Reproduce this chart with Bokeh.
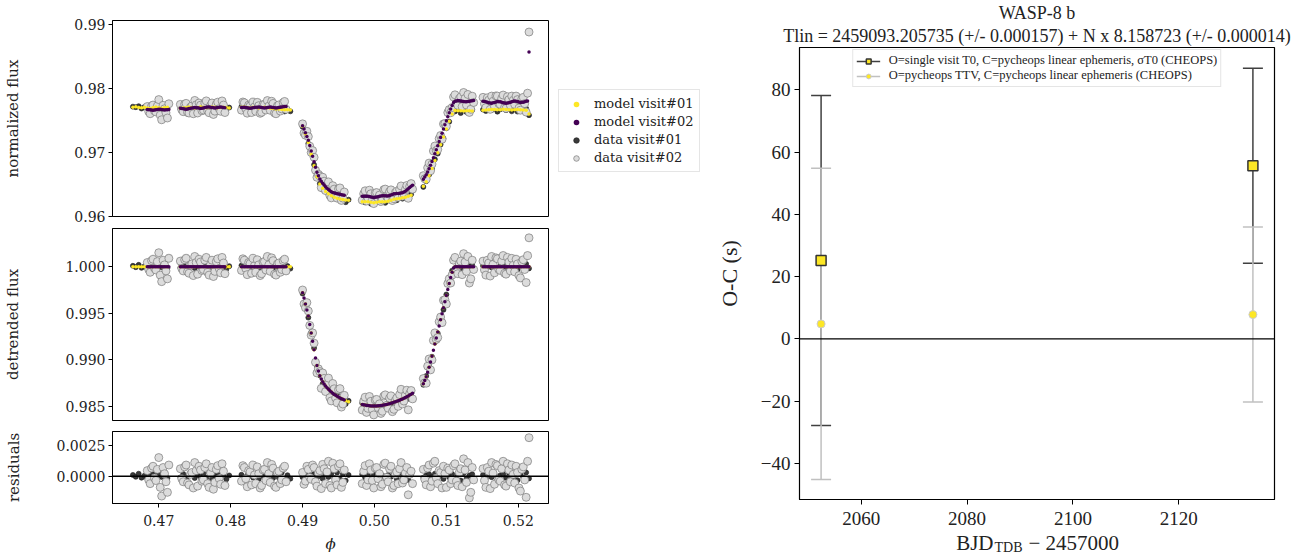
import numpy as np
from bokeh.plotting import figure
from bokeh.layouts import row, column
from bokeh.models import (ColumnDataSource, Range1d, FixedTicker, PrintfTickFormatter,
                          Legend, LegendItem, Span, Title, Label)
from bokeh.embed import file_html
from bokeh.resources import INLINE

# ---------------- light-curve data ----------------
# visit 1 and the first set of visit 2 points share this phase grid
phase = [
    0.4664, 0.4668, 0.4672, 0.4676, 0.4680, 0.4684, 0.4688, 0.4692, 0.4696, 0.4700, 0.4704, 0.4708, 0.4712,
    0.4730, 0.4734, 0.4738, 0.4742, 0.4746, 0.4750, 0.4754, 0.4758, 0.4762, 0.4766, 0.4770, 0.4774, 0.4778, 0.4782, 0.4786, 0.4790, 0.4794, 0.4798,
    0.4815, 0.4819, 0.4823, 0.4827, 0.4831, 0.4835, 0.4839, 0.4843, 0.4847, 0.4851, 0.4855, 0.4859, 0.4863, 0.4867, 0.4871, 0.4875, 0.4879, 0.4883,
    0.4900, 0.4904, 0.4908, 0.4912, 0.4916, 0.4920, 0.4924, 0.4928, 0.4932, 0.4936, 0.4940, 0.4944, 0.4948, 0.4952, 0.4956, 0.4960, 0.4964,
    0.4983, 0.4987, 0.4991, 0.4995, 0.4999, 0.5003, 0.5007, 0.5011, 0.5015, 0.5019, 0.5023, 0.5027, 0.5031, 0.5035, 0.5039, 0.5043, 0.5047, 0.5051,
    0.5068, 0.5072, 0.5076, 0.5080, 0.5084, 0.5088, 0.5092, 0.5096, 0.5100, 0.5104, 0.5108, 0.5112, 0.5116, 0.5120, 0.5124, 0.5128, 0.5132, 0.5136,
    0.5151, 0.5155, 0.5159, 0.5163, 0.5167, 0.5171, 0.5175, 0.5179, 0.5183, 0.5187, 0.5191, 0.5195, 0.5199, 0.5203, 0.5207, 0.5211, 0.5215,
]

# detrended transit model on that grid
det_model = [
    1.0, 1.0, 1.0, 1.0, 1.0, 1.0, 1.0, 1.0, 1.0, 1.0, 1.0, 1.0, 1.0,
    1.0, 1.0, 1.0, 1.0, 1.0, 1.0, 1.0, 1.0, 1.0, 1.0, 1.0, 1.0, 1.0, 1.0, 1.0, 1.0, 1.0, 1.0,
    1.0, 1.0, 1.0, 1.0, 1.0, 1.0, 1.0, 1.0, 1.0, 1.0, 1.0, 1.0, 1.0, 1.0, 1.0, 1.0, 1.0, 1.0,
    0.99720, 0.99600, 0.99470, 0.99290, 0.99110, 0.98940, 0.98830, 0.98765, 0.98720, 0.98685, 0.98655, 0.98630, 0.98610, 0.98592, 0.98577, 0.98563, 0.98551,
    0.98522, 0.98515, 0.98510, 0.98506, 0.98505, 0.98506, 0.98509, 0.98514, 0.98520, 0.98527, 0.98535, 0.98545, 0.98556, 0.98568, 0.98582, 0.98597, 0.98614, 0.98632,
    0.98745, 0.98820, 0.98920, 0.99040, 0.99170, 0.99300, 0.99430, 0.99560, 0.99690, 0.99820, 0.99940, 1.0, 1.0, 1.0, 1.0, 1.0, 1.0, 1.0,
    1.0, 1.0, 1.0, 1.0, 1.0, 1.0, 1.0, 1.0, 1.0, 1.0, 1.0, 1.0, 1.0, 1.0, 1.0, 1.0, 1.0,
]

# baseline (trend) of visit 1 and visit 2
trend_v1 = [
    0.97705, 0.97712, 0.97702, 0.97698, 0.97706, 0.97695, 0.97688, 0.97700, 0.97708, 0.97696, 0.97690, 0.97700, 0.97704,
    0.97690, 0.97695, 0.97702, 0.97708, 0.97700, 0.97694, 0.97700, 0.97712, 0.97705, 0.97698, 0.97702, 0.97710, 0.97704, 0.97696, 0.97700, 0.97706, 0.97700, 0.97695,
    0.97705, 0.97710, 0.97702, 0.97698, 0.97706, 0.97700, 0.97694, 0.97700, 0.97706, 0.97698, 0.97690, 0.97686, 0.97680, 0.97678, 0.97672, 0.97668, 0.97665, 0.97662,
    0.97682, 0.97678, 0.97672, 0.97666, 0.97660, 0.97654, 0.97650, 0.97646, 0.97642, 0.97640, 0.97638, 0.97640, 0.97644, 0.97650, 0.97656, 0.97662, 0.97668,
    0.97675, 0.97680, 0.97684, 0.97680, 0.97676, 0.97682, 0.97686, 0.97680, 0.97675, 0.97678, 0.97684, 0.97690, 0.97686, 0.97680, 0.97676, 0.97672, 0.97670, 0.97668,
    0.97700, 0.97696, 0.97692, 0.97688, 0.97684, 0.97680, 0.97676, 0.97672, 0.97668, 0.97664, 0.97660, 0.97656, 0.97652, 0.97650, 0.97648, 0.97650, 0.97652, 0.97648,
    0.97660, 0.97662, 0.97668, 0.97672, 0.97670, 0.97665, 0.97668, 0.97675, 0.97672, 0.97666, 0.97662, 0.97665, 0.97670, 0.97668, 0.97662, 0.97658, 0.97600,
]
trend_v2 = [
    None, None, None, None, None, 0.97672, 0.97665, 0.97660, 0.97668, 0.97675, 0.97670, 0.97662, 0.97668,
    0.97690, 0.97682, 0.97676, 0.97685, 0.97695, 0.97702, 0.97696, 0.97688, 0.97694, 0.97705, 0.97710, 0.97702, 0.97695, 0.97700, 0.97708, 0.97700, None, None,
    0.97700, 0.97706, 0.97698, 0.97690, 0.97696, 0.97704, 0.97710, 0.97702, 0.97694, 0.97700, 0.97708, 0.97700, 0.97694, 0.97702, 0.97710, 0.97716, None, None,
    0.97690, 0.97700, 0.97710, 0.97718, 0.97724, 0.97728, 0.97730, 0.97725, 0.97715, 0.97705, 0.97700, 0.97706, 0.97715, 0.97722, 0.97728, None, None,
    0.97760, 0.97768, 0.97774, 0.97766, 0.97758, 0.97764, 0.97772, 0.97778, 0.97770, 0.97762, 0.97768, 0.97776, 0.97770, 0.97762, 0.97758, 0.97766, 0.97790, 0.97812,
    0.97810, 0.97806, 0.97800, 0.97796, 0.97792, 0.97790, 0.97792, 0.97796, 0.97800, 0.97795, 0.97790, 0.97800, 0.97810, 0.97805, 0.97796, 0.97790, 0.97800, 0.97808,
    0.97800, 0.97790, 0.97776, 0.97770, 0.97780, 0.97795, 0.97790, 0.97776, 0.97768, 0.97775, 0.97790, 0.97805, 0.97795, 0.97780, 0.97785, 0.97800, 0.98570,
]

# residuals (data - model) of visit 1 and visit 2
resid_v1 = [
    0.00010, -0.00005, 0.00020, -0.00012, 0.00004, -0.00018, 0.00008, 0.00015, -0.00010, 0.00022, -0.00006, 0.00012, -0.00015,
    -0.00010, 0.00018, -0.00022, 0.00005, 0.00025, -0.00015, 0.00010, -0.00005, 0.00020, -0.00012, 0.00030, -0.00020, 0.00008, 0.00032, -0.00018, 0.00012, -0.00025, 0.00006,
    0.00012, -0.00018, 0.00006, 0.00020, -0.00010, 0.00015, -0.00022, 0.00004, 0.00018, -0.00008, 0.00010, -0.00015, 0.00025, -0.00012, 0.00030, -0.00028, 0.00008, -0.00020,
    -0.00008, 0.00012, -0.00016, 0.00006, 0.00018, -0.00010, 0.00004, -0.00020, 0.00014, -0.00006, 0.00022, -0.00014, 0.00030, -0.00025, 0.00015, -0.00035, 0.00010,
    0.00015, -0.00010, 0.00005, -0.00020, 0.00012, 0.00022, -0.00008, 0.00006, -0.00016, 0.00010, -0.00004, 0.00018, -0.00022, 0.00026, -0.00012, 0.00008, -0.00030, 0.00014,
    -0.00012, 0.00008, 0.00016, -0.00006, 0.00020, -0.00014, 0.00004, -0.00022, 0.00012, -0.00008, 0.00018, -0.00016, 0.00010, -0.00035, 0.00024, -0.00020, 0.00006, 0.00015,
    0.00010, -0.00015, 0.00022, -0.00008, 0.00014, -0.00028, 0.00006, 0.00018, -0.00012, 0.00026, -0.00020, 0.00008, -0.00032, 0.00016, -0.00010, 0.00030, -0.00018,
]
resid_v2 = [
    None, None, None, None, None, 0.00045, -0.00060, 0.00080, -0.00035, 0.00150, -0.00160, 0.00020, -0.00130,
    0.00060, -0.00045, 0.00090, -0.00070, 0.00030, 0.00110, -0.00080, 0.00050, -0.00030, 0.00100, -0.00090, 0.00070, -0.00050, 0.00085, -0.00065, 0.00040, None, None,
    -0.00040, 0.00070, -0.00085, 0.00035, 0.00090, -0.00060, 0.00020, -0.00075, 0.00055, 0.00110, -0.00050, 0.00065, -0.00090, 0.00040, -0.00030, 0.00080, None, None,
    0.00030, -0.00040, 0.00055, -0.00025, 0.00070, -0.00080, 0.00045, 0.00095, -0.00060, 0.00120, -0.00095, 0.00060, -0.00070, 0.00100, -0.00050, None, None,
    -0.00060, 0.00085, -0.00030, 0.00050, -0.00095, 0.00070, 0.00020, -0.00065, 0.00105, -0.00045, 0.00080, -0.00075, 0.00035, 0.00060, -0.00055, 0.00025, -0.00150, 0.00040,
    0.00055, -0.00070, 0.00090, -0.00040, 0.00120, -0.00060, 0.00030, 0.00080, -0.00090, 0.00050, -0.00030, 0.00100, -0.00075, 0.00060, 0.00140, -0.00050, -0.00175, 0.00070,
    0.00060, -0.00090, 0.00040, 0.00110, -0.00065, 0.00085, -0.00040, 0.00120, -0.00080, 0.00050, 0.00090, -0.00055, 0.00030, -0.00120, 0.00075, -0.00170, 0.00310,
]

# second (interleaved) set of visit 2 points
phase_b = [
    0.4666, 0.4670, 0.4674, 0.4678, 0.4682, 0.4686, 0.4690, 0.4694, 0.4698, 0.4702, 0.4706, 0.4710, 0.4714,
    0.4732, 0.4736, 0.4740, 0.4744, 0.4748, 0.4752, 0.4756, 0.4760, 0.4764, 0.4768, 0.4772, 0.4776, 0.4780, 0.4784, 0.4788, 0.4792, 0.4796, 0.4800,
    0.4817, 0.4821, 0.4825, 0.4829, 0.4833, 0.4837, 0.4841, 0.4845, 0.4849, 0.4853, 0.4857, 0.4861, 0.4865, 0.4869, 0.4873, 0.4877, 0.4881, 0.4885,
    0.4902, 0.4906, 0.4910, 0.4914, 0.4918, 0.4922, 0.4926, 0.4930, 0.4934, 0.4938, 0.4942, 0.4946, 0.4950, 0.4954, 0.4958, 0.4962, 0.4966,
    0.4985, 0.4989, 0.4993, 0.4997, 0.5001, 0.5005, 0.5009, 0.5013, 0.5017, 0.5021, 0.5025, 0.5029, 0.5033, 0.5037, 0.5041, 0.5045, 0.5049, 0.5053,
    0.5070, 0.5074, 0.5078, 0.5082, 0.5086, 0.5090, 0.5094, 0.5098, 0.5102, 0.5106, 0.5110, 0.5114, 0.5118, 0.5122, 0.5126, 0.5130, 0.5134, 0.5138,
    0.5153, 0.5157, 0.5161, 0.5165, 0.5169, 0.5173, 0.5177, 0.5181, 0.5185, 0.5189, 0.5193, 0.5197, 0.5201, 0.5205, 0.5209, 0.5213,
]
det_model_b = [
    1.0, 1.0, 1.0, 1.0, 1.0, 1.0, 1.0, 1.0, 1.0, 1.0, 1.0, 1.0, 1.0,
    1.0, 1.0, 1.0, 1.0, 1.0, 1.0, 1.0, 1.0, 1.0, 1.0, 1.0, 1.0, 1.0, 1.0, 1.0, 1.0, 1.0, 1.0,
    1.0, 1.0, 1.0, 1.0, 1.0, 1.0, 1.0, 1.0, 1.0, 1.0, 1.0, 1.0, 1.0, 1.0, 1.0, 1.0, 1.0, 1.0,
    0.99665, 0.99535, 0.99380, 0.99200, 0.99020, 0.98880, 0.98795, 0.98742, 0.98702, 0.98670, 0.98642, 0.98620, 0.98601, 0.98584, 0.98570, 0.98557, 0.98546,
    0.98518, 0.98512, 0.98508, 0.98505, 0.98505, 0.98507, 0.98511, 0.98517, 0.98523, 0.98531, 0.98540, 0.98550, 0.98562, 0.98575, 0.98589, 0.98605, 0.98623, 0.98642,
    0.98780, 0.98868, 0.98978, 0.99104, 0.99235, 0.99365, 0.99495, 0.99625, 0.99755, 0.99885, 0.99985, 1.0, 1.0, 1.0, 1.0, 1.0, 1.0, 1.0,
    1.0, 1.0, 1.0, 1.0, 1.0, 1.0, 1.0, 1.0, 1.0, 1.0, 1.0, 1.0, 1.0, 1.0, 1.0, 1.0,
]
trend_v2b = [
    None, None, None, None, None, 0.97668, 0.97662, 0.97664, 0.97672, 0.97673, 0.97666, 0.97665, 0.97670,
    0.97686, 0.97679, 0.97680, 0.97690, 0.97699, 0.97699, 0.97692, 0.97691, 0.97700, 0.97708, 0.97706, 0.97698, 0.97697, 0.97704, 0.97704, 0.97698, None, None,
    0.97703, 0.97702, 0.97694, 0.97693, 0.97700, 0.97707, 0.97706, 0.97698, 0.97697, 0.97704, 0.97704, 0.97697, 0.97698, 0.97706, 0.97713, 0.97718, None, None,
    0.97695, 0.97705, 0.97714, 0.97721, 0.97726, 0.97729, 0.97728, 0.97720, 0.97710, 0.97702, 0.97703, 0.97710, 0.97718, 0.97725, 0.97730, None, None,
    0.97764, 0.97771, 0.97770, 0.97762, 0.97761, 0.97768, 0.97775, 0.97774, 0.97766, 0.97765, 0.97772, 0.97773, 0.97766, 0.97760, 0.97762, 0.97778, 0.97801, 0.97815,
    0.97808, 0.97803, 0.97798, 0.97794, 0.97791, 0.97791, 0.97794, 0.97798, 0.97797, 0.97792, 0.97795, 0.97805, 0.97808, 0.97800, 0.97793, 0.97795, 0.97804, 0.97810,
    0.97795, 0.97783, 0.97773, 0.97775, 0.97788, 0.97793, 0.97783, 0.97772, 0.97771, 0.97782, 0.97798, 0.97800, 0.97788, 0.97782, 0.97792, 0.97805,
]
resid_v2b = [
    None, None, None, None, None, -0.00030, 0.00065, -0.00015, 0.00055, -0.00090, 0.00070, -0.00045, 0.00090,
    -0.00020, 0.00075, -0.00055, 0.00015, -0.00095, 0.00045, 0.00080, -0.00040, 0.00070, -0.00060, 0.00025, -0.00105, 0.00055, -0.00020, 0.00100, -0.00075, None, None,
    0.00085, -0.00020, 0.00045, -0.00070, 0.00010, 0.00075, -0.00095, 0.00050, -0.00035, 0.00020, 0.00095, -0.00080, 0.00030, -0.00060, 0.00065, -0.00045, None, None,
    -0.00065, 0.00080, -0.00010, 0.00090, -0.00045, 0.00025, -0.00100, 0.00060, 0.00035, -0.00075, 0.00105, -0.00030, 0.00080, -0.00090, 0.00050, None, None,
    0.00040, -0.00075, 0.00100, -0.00035, 0.00065, -0.00020, -0.00085, 0.00095, -0.00010, 0.00060, -0.00095, 0.00015, -0.00060, 0.00110, -0.00030, 0.00070, 0.00015, -0.00060,
    -0.00025, 0.00065, -0.00085, 0.00105, -0.00015, 0.00045, -0.00095, 0.00020, 0.00065, -0.00060, 0.00085, -0.00040, 0.00030, -0.00085, 0.00050, 0.00110, -0.00130, -0.00030,
    -0.00035, 0.00070, -0.00100, 0.00025, 0.00095, -0.00030, 0.00060, -0.00070, 0.00100, -0.00045, 0.00015, 0.00080, -0.00095, 0.00055, -0.00030, 0.00120,
]

phase_ticks = [0.47, 0.48, 0.49, 0.50, 0.51, 0.52]
flux_ticks = [0.96, 0.97, 0.98, 0.99]
det_ticks = [0.985, 0.990, 0.995, 1.000]
res_ticks = [0.0, 0.0025]

# ---------------- O-C data ----------------
bjd_tdb = [2052.41, 2134.00]
oc_t0 = [25.2, 55.6]
oc_t0_err = [53.0, 31.3]
oc_ttv = [4.8, 7.8]
oc_ttv_err = [50.0, 28.1]
x_ticks_oc = [2060, 2080, 2100, 2120]
y_ticks_oc = [-40, -20, 0, 20, 40, 60, 80]

for arr in (det_model, trend_v1, trend_v2, resid_v1, resid_v2):
    assert len(arr) == len(phase), len(arr)
for arr in (det_model_b, trend_v2b, resid_v2b):
    assert len(arr) == len(phase_b), len(arr)

f = lambda a: np.array(a, dtype=float)
ph, dm, t1, r1 = f(phase), f(det_model), f(trend_v1), f(resid_v1)
ph2 = np.concatenate([f(phase), f(phase_b)])
dm2 = np.concatenate([f(det_model), f(det_model_b)])
t2 = np.concatenate([f(trend_v2), f(trend_v2b)])
r2 = np.concatenate([f(resid_v2), f(resid_v2b)])
order = np.argsort(ph2)
ph2, dm2, t2, r2 = ph2[order], dm2[order], t2[order], r2[order]
dm2_seen = np.where(np.isnan(t2), np.nan, dm2)   # no visit-2 model where visit 2 has no data

src1 = ColumnDataSource(dict(ph=ph, model=dm * t1, flux=dm * t1 + r1, dm=dm, det=dm + r1, res=r1))
src2 = ColumnDataSource(dict(ph=ph2, model=dm2 * t2, flux=dm2 * t2 + r2, dm=dm2_seen, det=dm2 + r2, res=r2))

FL = "DejaVu Serif"
FR = "Liberation Serif"
YELLOW = "#fde725"
PURPLE = "#440154"
TXT = "#222222"
V1_STYLE = dict(size=5, fill_color="#3a3a3a", line_color="#1a1a1a", line_width=0.6)
V2_STYLE = dict(size=8, fill_color="#dcdcdc", line_color="#7a7a7a", line_width=0.7)
M1_STYLE = dict(size=3.5, fill_color=YELLOW, line_color=None)
M2_STYLE = dict(size=3.5, fill_color=PURPLE, line_color=None)

xr = Range1d(0.46356, 0.52421)


def left_fig(yr, fh, mbt, mbb):
    p = figure(frame_width=436, frame_height=fh, x_range=xr, y_range=yr,
               min_border_left=112, min_border_right=10, min_border_top=mbt,
               min_border_bottom=mbb, output_backend="svg", toolbar_location=None)
    p.grid.visible = False
    p.outline_line_color = "black"
    p.outline_line_width = 1
    for ax in p.axis:
        ax.major_label_text_font = FL
        ax.major_label_text_font_size = "14px"
        ax.major_label_text_color = TXT
        ax.major_tick_out = 4
        ax.major_tick_in = 0
        ax.minor_tick_line_color = None
        ax.axis_line_color = "black"
        ax.major_tick_line_color = "black"
        ax.major_label_standoff = 3
        ax.axis_label_text_font = FL
        ax.axis_label_text_font_size = "15px"
        ax.axis_label_text_font_style = "normal"
        ax.axis_label_text_color = TXT
    return p


def draw_data(p, ycol):
    p.scatter("ph", ycol, source=src1, **V1_STYLE)
    p.scatter("ph", ycol, source=src2, **V2_STYLE)


# panel 1: normalized flux
p1 = left_fig(Range1d(0.9600, 0.9906), 196, 20, 10)
draw_data(p1, "flux")
p1.scatter("ph", "model", source=src1, **M1_STYLE)
p1.scatter("ph", "model", source=src2, **M2_STYLE)
p1.xaxis.visible = False
p1.yaxis.ticker = FixedTicker(ticks=flux_ticks)
p1.yaxis.formatter = PrintfTickFormatter(format="%.2f")
p1.yaxis.axis_label = "normalized flux"
p1.yaxis.axis_label_standoff = 49

# panel 2: detrended flux
p2 = left_fig(Range1d(0.9835, 1.0041), 192, 2, 5)
draw_data(p2, "det")
p2.scatter("ph", "dm", source=src1, **M1_STYLE)
p2.scatter("ph", "dm", source=src2, **M2_STYLE)
p2.xaxis.visible = False
p2.yaxis.ticker = FixedTicker(ticks=det_ticks)
p2.yaxis.formatter = PrintfTickFormatter(format="%.3f")
p2.yaxis.axis_label = "detrended flux"
p2.yaxis.axis_label_standoff = 40

# panel 3: residuals
p3 = left_fig(Range1d(-0.0022, 0.0036), 72, 6, 50)
draw_data(p3, "res")
p3.add_layout(Span(location=0, dimension="width", line_color="black", line_width=1.5))
p3.xaxis.ticker = FixedTicker(ticks=phase_ticks)
p3.xaxis.formatter = PrintfTickFormatter(format="%.2f")
p3.xaxis.major_label_standoff = 7
p3.xaxis.axis_label = "ϕ"
p3.xaxis.axis_label_text_font_style = "italic"
p3.xaxis.axis_label_standoff = 6
p3.yaxis.ticker = FixedTicker(ticks=res_ticks)
p3.yaxis.formatter = PrintfTickFormatter(format="%.4f")
p3.yaxis.axis_label = "residuals"
p3.yaxis.axis_label_standoff = 31

# legend of the light-curve panels (sits to the right of panel 1).
# Its glyph renderers use the same data sources, but this strip's ranges show none of the points.
lf = figure(width=150, height=226, x_range=Range1d(10, 11), y_range=Range1d(10, 11), min_border=0,
            x_axis_location=None, y_axis_location=None, outline_line_color=None,
            output_backend="svg", toolbar_location=None)
lf.grid.visible = False
lg_m1 = lf.scatter("ph", "model", source=src1, **M1_STYLE)
lg_m2 = lf.scatter("ph", "model", source=src2, **M2_STYLE)
lg_d1 = lf.scatter("ph", "flux", source=src1, **V1_STYLE)
lg_d2 = lf.scatter("ph", "flux", source=src2, **V2_STYLE)
leg1 = Legend(items=[LegendItem(label="model visit#01", renderers=[lg_m1]),
                     LegendItem(label="model visit#02", renderers=[lg_m2]),
                     LegendItem(label="data visit#01", renderers=[lg_d1]),
                     LegendItem(label="data visit#02", renderers=[lg_d2])],
              location=(0, 54), label_text_font=FL, label_text_font_size="13px",
              label_text_color=TXT, border_line_color="#cccccc", border_line_width=1,
              background_fill_color="white", glyph_width=22, glyph_height=14, spacing=3,
              padding=6, label_standoff=7, margin=0)
lf.add_layout(leg1)

# ---------------- right: O-C ----------------
pR = figure(frame_width=475, frame_height=452, x_range=Range1d(2048.33, 2138.08),
            y_range=Range1d(-51.6, 93.6), min_border_left=91, min_border_right=20,
            min_border_top=46, min_border_bottom=32, output_backend="svg", toolbar_location=None)
pR.grid.visible = False
pR.outline_line_color = "black"
pR.outline_line_width = 1.2
for ax in pR.axis:
    ax.major_label_text_font = FR
    ax.major_label_text_font_size = "19px"
    ax.major_label_text_color = TXT
    ax.major_tick_out = 5
    ax.major_tick_in = 0
    ax.minor_tick_line_color = None
    ax.axis_line_color = "black"
    ax.major_label_standoff = 4
    ax.axis_label_text_font = FR
    ax.axis_label_text_font_size = "22px"
    ax.axis_label_text_font_style = "normal"
    ax.axis_label_text_color = TXT
pR.xaxis.ticker = FixedTicker(ticks=x_ticks_oc)
pR.xaxis.major_label_standoff = 7
pR.yaxis.ticker = FixedTicker(ticks=y_ticks_oc)
pR.yaxis.major_label_overrides = {t: ("\u2212" + str(-t) if t < 0 else str(t)) for t in y_ticks_oc}
pR.yaxis.axis_label = "O-C (s)"
pR.yaxis.axis_label_standoff = 16

srcA = ColumnDataSource(dict(x=bjd_tdb, y=oc_t0,
                             lo=[v - e for v, e in zip(oc_t0, oc_t0_err)],
                             hi=[v + e for v, e in zip(oc_t0, oc_t0_err)]))
srcB = ColumnDataSource(dict(x=bjd_tdb, y=oc_ttv,
                             lo=[v - e for v, e in zip(oc_ttv, oc_ttv_err)],
                             hi=[v + e for v, e in zip(oc_ttv, oc_ttv_err)]))

DARK = "#404040"
LIGHT = "#c0c0c0"
eA = pR.segment("x", "lo", "x", "hi", source=srcA, line_color=DARK, line_width=1.5)
cA1 = pR.scatter("x", "lo", source=srcA, marker="dash", size=20, line_color=DARK, line_width=1.5)
cA2 = pR.scatter("x", "hi", source=srcA, marker="dash", size=20, line_color=DARK, line_width=1.5)
eB = pR.segment("x", "lo", "x", "hi", source=srcB, line_color=LIGHT, line_width=1.5)
cB1 = pR.scatter("x", "lo", source=srcB, marker="dash", size=20, line_color=LIGHT, line_width=1.5)
cB2 = pR.scatter("x", "hi", source=srcB, marker="dash", size=20, line_color=LIGHT, line_width=1.5)
sA = pR.scatter("x", "y", source=srcA, marker="square", size=10, fill_color=YELLOW, line_color="#333333", line_width=1.5)
sB = pR.scatter("x", "y", source=srcB, marker="circle", size=8, fill_color=YELLOW, line_color="#cccccc", line_width=1)
pR.add_layout(Span(location=0, dimension="width", line_color="black", line_width=1.2))

legR = Legend(items=[
    LegendItem(label="O=single visit T0, C=pycheops linear ephemeris, \u03c3T0 (CHEOPS)", renderers=[eA, cA1, sA]),
    LegendItem(label="O=pycheops TTV, C=pycheops linear ephemeris (CHEOPS)", renderers=[eB, cB1, sB]),
], location="top_center", label_text_font=FR, label_text_font_size="12.5px", label_text_color=TXT,
    border_line_color="#cccccc", border_line_width=1, glyph_width=24, glyph_height=12, spacing=0,
    padding=3, label_standoff=9, margin=2, label_height=12)
pR.add_layout(legR)

pR.add_layout(Title(text="Tlin = 2459093.205735 (+/- 0.000157) + N x 8.158723 (+/- 0.000014)",
                    align="center", text_font=FR, text_font_size="18px", text_font_style="normal",
                    text_color=TXT, standoff=3), "above")
pR.add_layout(Title(text="WASP-8 b", align="center", text_font=FR, text_font_size="18px",
                    text_font_style="normal", text_color=TXT, standoff=0), "above")

# x label (with subscript) drawn in a thin strip under the O-C panel (its frame lines up with the panel's frame)
xf = figure(width=91 + 475 + 20, height=24, x_range=Range1d(0, 1), y_range=Range1d(0, 1), min_border=0,
            x_axis_location=None, y_axis_location=None, outline_line_color=None,
            output_backend="svg", toolbar_location=None)
xf.grid.visible = False
lab_kw = dict(x_units="screen", y_units="screen", text_font=FR, text_color=TXT, text_baseline="middle")
xf.add_layout(Label(x=194, y=13, text="BJD", text_align="right", text_font_size="21px", **lab_kw))
xf.add_layout(Label(x=195, y=8, text="TDB", text_align="left", text_font_size="14px", **lab_kw))
xf.add_layout(Label(x=229, y=13, text="\u2212 2457000", text_align="left", text_font_size="21px", **lab_kw))

layout = row(column(p1, p2, p3), lf, column(pR, xf))
open("out.html", "w").write(file_html(layout, INLINE))
